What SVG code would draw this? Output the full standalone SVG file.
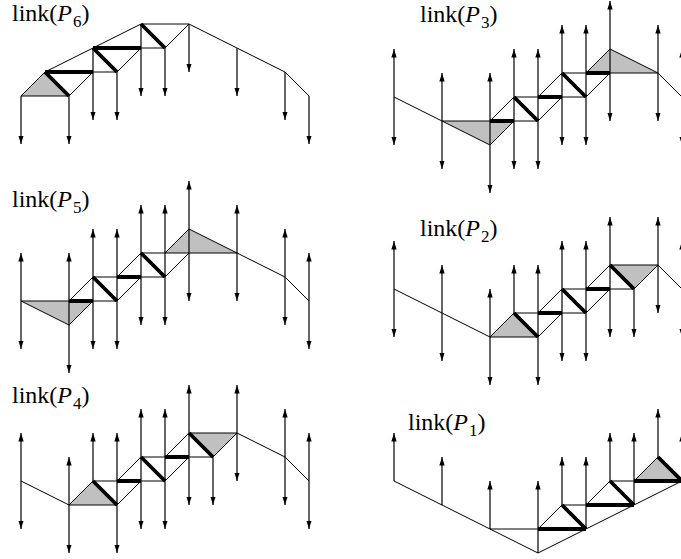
<svg xmlns="http://www.w3.org/2000/svg" width="681" height="559" viewBox="0 0 681 559">
<style>
.lb{font-family:"Liberation Serif","Times New Roman",serif;font-size:24px;fill:#000}
.sb{font-size:17px}
.t{fill:none;stroke:#000;stroke-width:1}
.k{fill:none;stroke:#000;stroke-width:3.8;stroke-linecap:butt}
.g{fill:#c0c0c0;stroke:none}
.ad{fill:none;stroke:#000;stroke-width:1.2;marker-end:url(#ah)}
.ab{fill:none;stroke:#000;stroke-width:1.2;marker-start:url(#ah);marker-end:url(#ah)}
</style>
<defs>
<marker id="ah" viewBox="0 0 8 5" refX="8" refY="2.5" markerWidth="8.5" markerHeight="5.5" markerUnits="userSpaceOnUse" orient="auto-start-reverse">
<path d="M0,0L8,2.5L0,5Z" fill="#000"/>
</marker>
</defs>
<rect width="681" height="559" fill="#fff"/>

<g id="labels">
<text class="lb" x="12" y="21">link(<tspan font-style="italic">P</tspan><tspan class="sb" dx="1" dy="6">6</tspan><tspan dy="-6">)</tspan></text>
<text class="lb" x="12" y="207">link(<tspan font-style="italic">P</tspan><tspan class="sb" dx="1" dy="6">5</tspan><tspan dy="-6">)</tspan></text>
<text class="lb" x="12" y="403">link(<tspan font-style="italic">P</tspan><tspan class="sb" dx="1" dy="6">4</tspan><tspan dy="-6">)</tspan></text>
<text class="lb" x="420" y="22">link(<tspan font-style="italic">P</tspan><tspan class="sb" dx="1" dy="6">3</tspan><tspan dy="-6">)</tspan></text>
<text class="lb" x="420" y="236">link(<tspan font-style="italic">P</tspan><tspan class="sb" dx="1" dy="6">2</tspan><tspan dy="-6">)</tspan></text>
<text class="lb" x="408" y="430">link(<tspan font-style="italic">P</tspan><tspan class="sb" dx="1" dy="6">1</tspan><tspan dy="-6">)</tspan></text>
</g>

<g id="P6" transform="translate(21,24)">
<path class="g" d="M0,72L24,48L48,72Z"/>
<g id="P6-arrows">
<path class="ad" d="M0,72V120"/><path class="ad" d="M48,72V120"/><path class="ad" d="M72,24V96"/><path class="ad" d="M96,48V96"/><path class="ad" d="M120,0V72"/><path class="ad" d="M144,24V72"/><path class="ad" d="M168,0V48"/><path class="ad" d="M216,24V72"/><path class="ad" d="M264,48V96"/><path class="ad" d="M288,72V120"/>
</g>
<path class="t" d="M0,72L24,48L72,24L120,0L168,0L216,24L264,48L288,72M0,72H48M72,48L48,72M72,48H96M96,48L120,24M120,24H144M144,24L168,0"/>
<path class="k" d="M24,48L48,72M24,48H72M72,24L96,48M72,24H120M120,0L144,24"/>
</g>

<g id="P5" transform="translate(21,229)">
<path class="g" d="M0,72L48,96L72,72ZM144,24L168,0L216,24Z"/>
<g id="P5-arrows">
<path class="ab" d="M0,24V120"/><path class="ab" d="M48,24V144"/><path class="ab" d="M72,0V120"/><path class="ab" d="M96,0V120"/><path class="ab" d="M120,-24V96"/><path class="ab" d="M144,-24V96"/><path class="ab" d="M168,-48V72"/><path class="ab" d="M216,-24V72"/><path class="ab" d="M264,0V96"/><path class="ab" d="M288,24V120"/>
</g>
<path class="t" d="M0,72L48,96L72,72M144,24L168,0L216,24L264,48L288,72M0,72H96M48,72L72,48M72,48H144M96,72L120,48M96,48L120,24M120,24H216M144,48L168,24"/>
<path class="k" d="M48,72H72M72,48L96,72M96,48H120M120,24L144,48"/>
</g>

<g id="P4" transform="translate(21,433)">
<path class="g" d="M48,72L72,48L96,72ZM168,0L192,24L216,0Z"/>
<g id="P4-arrows">
<path class="ab" d="M0,0V96"/><path class="ab" d="M48,24V120"/><path class="ad" d="M72,48V0"/><path class="ab" d="M96,0V120"/><path class="ab" d="M120,-24V96"/><path class="ab" d="M144,-24V96"/><path class="ab" d="M168,-48V72"/><path class="ad" d="M192,24V72"/><path class="ab" d="M216,-48V48"/><path class="ab" d="M264,-24V72"/><path class="ab" d="M288,0V96"/>
</g>
<path class="t" d="M0,48L48,72M216,0L264,24L288,48M48,72H96M48,72L72,48M72,48H144M96,72L120,48M96,48L120,24M120,24H192M144,48L168,24M144,24L168,0M168,0H216M192,24L216,0"/>
<path class="k" d="M72,48L96,72M96,48H120M120,24L144,48M144,24H168M168,0L192,24"/>
</g>

<g id="P3" transform="translate(394,49)">
<path class="g" d="M48,72L96,96L120,72ZM192,24L216,0L264,24Z"/>
<g id="P3-arrows">
<path class="ab" d="M0,0V96"/><path class="ab" d="M48,24V120"/><path class="ab" d="M96,24V144"/><path class="ab" d="M120,0V120"/><path class="ab" d="M144,0V120"/><path class="ab" d="M168,-24V96"/><path class="ab" d="M192,-24V96"/><path class="ab" d="M216,-48V72"/><path class="ab" d="M264,-24V72"/><path class="ab" d="M288,0V96"/>
</g>
<path class="t" d="M0,48L96,96L120,72M192,24L216,0L264,24L288,48M48,72H144M96,72L120,48M120,48H192M144,72L168,48M144,48L168,24M168,24H264M192,48L216,24"/>
<path class="k" d="M96,72H120M120,48L144,72M144,48H168M168,24L192,48M192,24H216"/>
</g>

<g id="P2" transform="translate(394,265)">
<path class="g" d="M96,72L120,48L144,72ZM216,0L240,24L264,0Z"/>
<g id="P2-arrows">
<path class="ab" d="M0,-24V72"/><path class="ab" d="M48,0V96"/><path class="ab" d="M96,24V120"/><path class="ad" d="M120,48V0"/><path class="ab" d="M144,0V120"/><path class="ab" d="M168,-24V96"/><path class="ab" d="M192,-24V96"/><path class="ab" d="M216,-48V72"/><path class="ad" d="M240,24V72"/><path class="ab" d="M264,-48V48"/><path class="ab" d="M288,-24V72"/>
</g>
<path class="t" d="M0,24L96,72M264,0L288,24M96,72H144M96,72L120,48M120,48H192M144,72L168,48M144,48L168,24M168,24H240M192,48L216,24M192,24L216,0M216,0H264M240,24L264,0"/>
<path class="k" d="M120,48L144,72M144,48H168M168,24L192,48M192,24H216M216,0L240,24"/>
</g>

<g id="P1" transform="translate(394,457)">
<path class="g" d="M240,24L264,0L288,24Z"/>
<g id="P1-arrows">
<path class="ad" d="M0,24V-24"/><path class="ad" d="M48,48V0"/><path class="ad" d="M96,72V24"/><path class="ad" d="M144,96V24"/><path class="ad" d="M168,48V0"/><path class="ad" d="M192,72V0"/><path class="ad" d="M216,24V-24"/><path class="ad" d="M240,48V-24"/><path class="ad" d="M264,0V-48"/><path class="ad" d="M288,24V-24"/>
</g>
<path class="t" d="M0,24L144,96L288,24M96,72H144M144,72L168,48M168,48H192M192,48L216,24M216,24H240M240,24L264,0"/>
<path class="k" d="M144,72H192M168,48L192,72M192,48H240M216,24L240,48M240,24H288M264,0L288,24"/>
</g>
</svg>
